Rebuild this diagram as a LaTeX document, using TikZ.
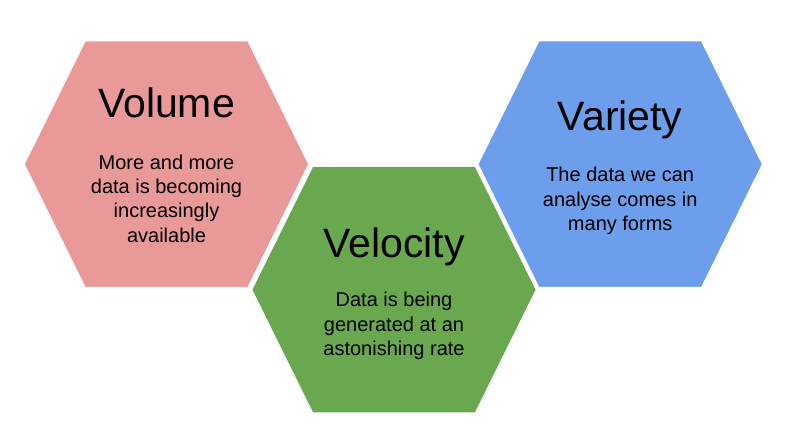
\documentclass[tikz,border=0pt]{standalone}
\usepackage{fontspec}
\setmainfont{Liberation Sans}
\begin{document}
\begin{tikzpicture}[x=1pt,y=-1pt,
  hexfill/.style={draw=white,line width=1.5pt,line join=miter},
  title/.style={anchor=base,inner sep=0pt,font=\fontsize{41}{49}\selectfont},
  body/.style={anchor=base,inner sep=0pt,align=center,font=\fontsize{20}{24.4}\selectfont}]
  \definecolor{volumecol}{HTML}{EA9999}
  \definecolor{velocitycol}{HTML}{6AA84F}
  \definecolor{varietycol}{HTML}{6D9EEB}
  \useasboundingbox[fill=white] (0,0) rectangle (790,428);
  % hexagon outline around a centre: half width 142.5, half height 123.5, top edge half 81.5
  \newcommand\hexpath[2]{(#1-142.5,#2) -- (#1-81.5,#2-123.5) -- (#1+81.5,#2-123.5) -- (#1+142.5,#2) -- (#1+81.5,#2+123.5) -- (#1-81.5,#2+123.5) -- cycle}
  \fill[volumecol,hexfill] \hexpath{166.5}{164.2};
  \fill[varietycol,hexfill] \hexpath{620.2}{164.2};
  \fill[velocitycol,hexfill] \hexpath{394}{289.7};
  % labels (body nodes are placed by the baseline of their last line)
  \node[title] (voltitle) at (166.5,117.3) {Volume};
  \node[body] (voltext) at (166.5,242.3) {More and more\\data is becoming\\increasingly\\available};
  \node[title] (veltitle) at (394,257.3) {Velocity};
  \node[body] (veltext) at (394,355.5) {Data is being\\generated at an\\astonishing rate};
  \node[title] (vartitle) at (620.2,130.7) {Variety};
  \node[body] (vartext) at (620.2,230.5) {The data we can\\analyse comes in\\many forms};
\end{tikzpicture}
\end{document}
